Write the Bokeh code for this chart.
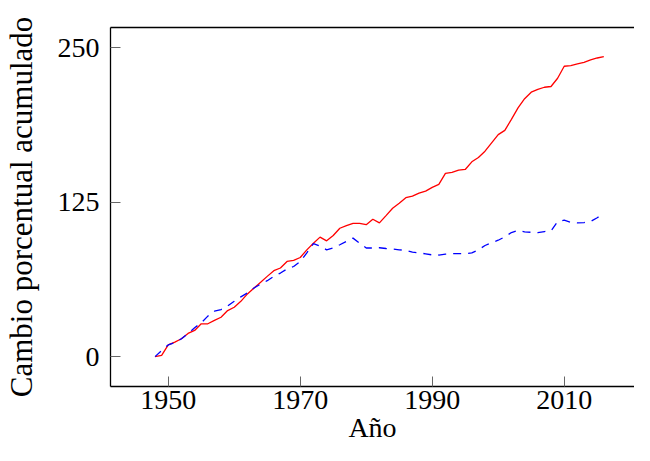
from bokeh.plotting import figure
from bokeh.models import Range1d, FixedTicker, LinearAxis
from bokeh.embed import file_html
from bokeh.resources import INLINE

years = list(range(1948, 2017))
productividad = [0, 1, 9.5, 11.8, 14.5, 18.8, 21.2, 26.6, 26.6, 29.3,
                 31.9, 37.3, 40, 44.8, 50.8, 55.6, 60.2, 65, 69.6, 71.8,
                 77.1, 77.9, 80.3, 86.5, 91.9, 96.8, 93.8, 98.1, 104, 106.1,
                 108, 108, 106.9, 111.3, 108.3, 114.2, 120.2, 124.2, 128.7, 130,
                 132.5, 134.1, 137.1, 139.5, 148.4, 149.2, 151, 151.6, 157.8, 161.3,
                 166.4, 173.1, 179.8, 183.3, 192.2, 201.5, 208.9, 214.2, 216.4, 218.2,
                 218.8, 225.5, 235.2, 235.7, 237.1, 238.4, 240.3, 241.9, 243]
compensacion = [0, 5, 9.5, 11.3, 14.5, 18.8, 23.4, 27.4, 32.8, 36.8,
                38.1, 41, 44.8, 48.4, 51.6, 55.6, 58.8, 61.5, 65, 67.7,
                71, 73, 77, 84, 91.5, 89.5, 86.5, 88, 90.6, 93.3,
                96, 91.9, 88, 88, 88.2, 87.6, 87.1, 86.5, 86.2, 84.6,
                84, 83.3, 82.4, 82.3, 83, 83.4, 83.4, 83.3, 84, 86.5,
                90, 92.3, 94.3, 97, 100.5, 102.3, 101, 100.7, 100.5, 101.3,
                101.8, 109.5, 110.5, 108.8, 108.3, 108.6, 109.5, 112.5, 116]
x_ticks = [1950, 1970, 1990, 2010]
y_ticks = [0, 125, 250]
x_label = "Año"
y_label = "Cambio porcentual acumulado"

FONT = "Liberation Serif"

p = figure(width=634, height=445, output_backend="svg", toolbar_location=None,
           x_range=Range1d(1941.25, 2020.65), y_range=Range1d(-24.2, 266.6),
           min_border_left=105, min_border_right=0, min_border_top=27,
           min_border_bottom=58)
p.outline_line_color = None
p.xgrid.visible = False
p.ygrid.visible = False
p.background_fill_color = "white"
p.border_fill_color = "white"

p.line(years, productividad, line_color="#ff0000", line_width=1.3)
p.line(years, compensacion, line_color="#0000ff", line_width=1.3, line_dash="8 7")

for ax in (p.xaxis[0], p.yaxis[0]):
    ax.axis_line_color = "black"
    ax.axis_line_width = 1.3
    ax.major_tick_in = 10
    ax.major_tick_out = 0
    ax.major_tick_line_color = "#666666"
    ax.major_tick_line_width = 1
    ax.minor_tick_line_color = None
    ax.major_label_text_font = FONT
    ax.major_label_text_font_size = "28px"
    ax.major_label_text_color = "black"
    ax.axis_label_text_font = FONT
    ax.axis_label_text_font_style = "normal"
    ax.axis_label_text_color = "black"

p.xaxis[0].ticker = FixedTicker(ticks=x_ticks)
p.yaxis[0].ticker = FixedTicker(ticks=y_ticks)
p.xaxis[0].axis_label = x_label
p.yaxis[0].axis_label = y_label
p.xaxis[0].axis_label_text_font_size = "28px"
p.yaxis[0].axis_label_text_font_size = "31px"
p.xaxis[0].major_label_standoff = 4
p.yaxis[0].major_label_standoff = 11
p.xaxis[0].axis_label_standoff = 0
p.yaxis[0].axis_label_standoff = 16

top = LinearAxis(ticker=FixedTicker(ticks=[]), axis_line_color="black",
                 axis_line_width=1.3, major_tick_in=0, major_tick_out=0,
                 minor_tick_line_color=None, major_label_text_font_size="0px")
p.add_layout(top, "above")

open("out.html", "w").write(file_html(p, INLINE))
